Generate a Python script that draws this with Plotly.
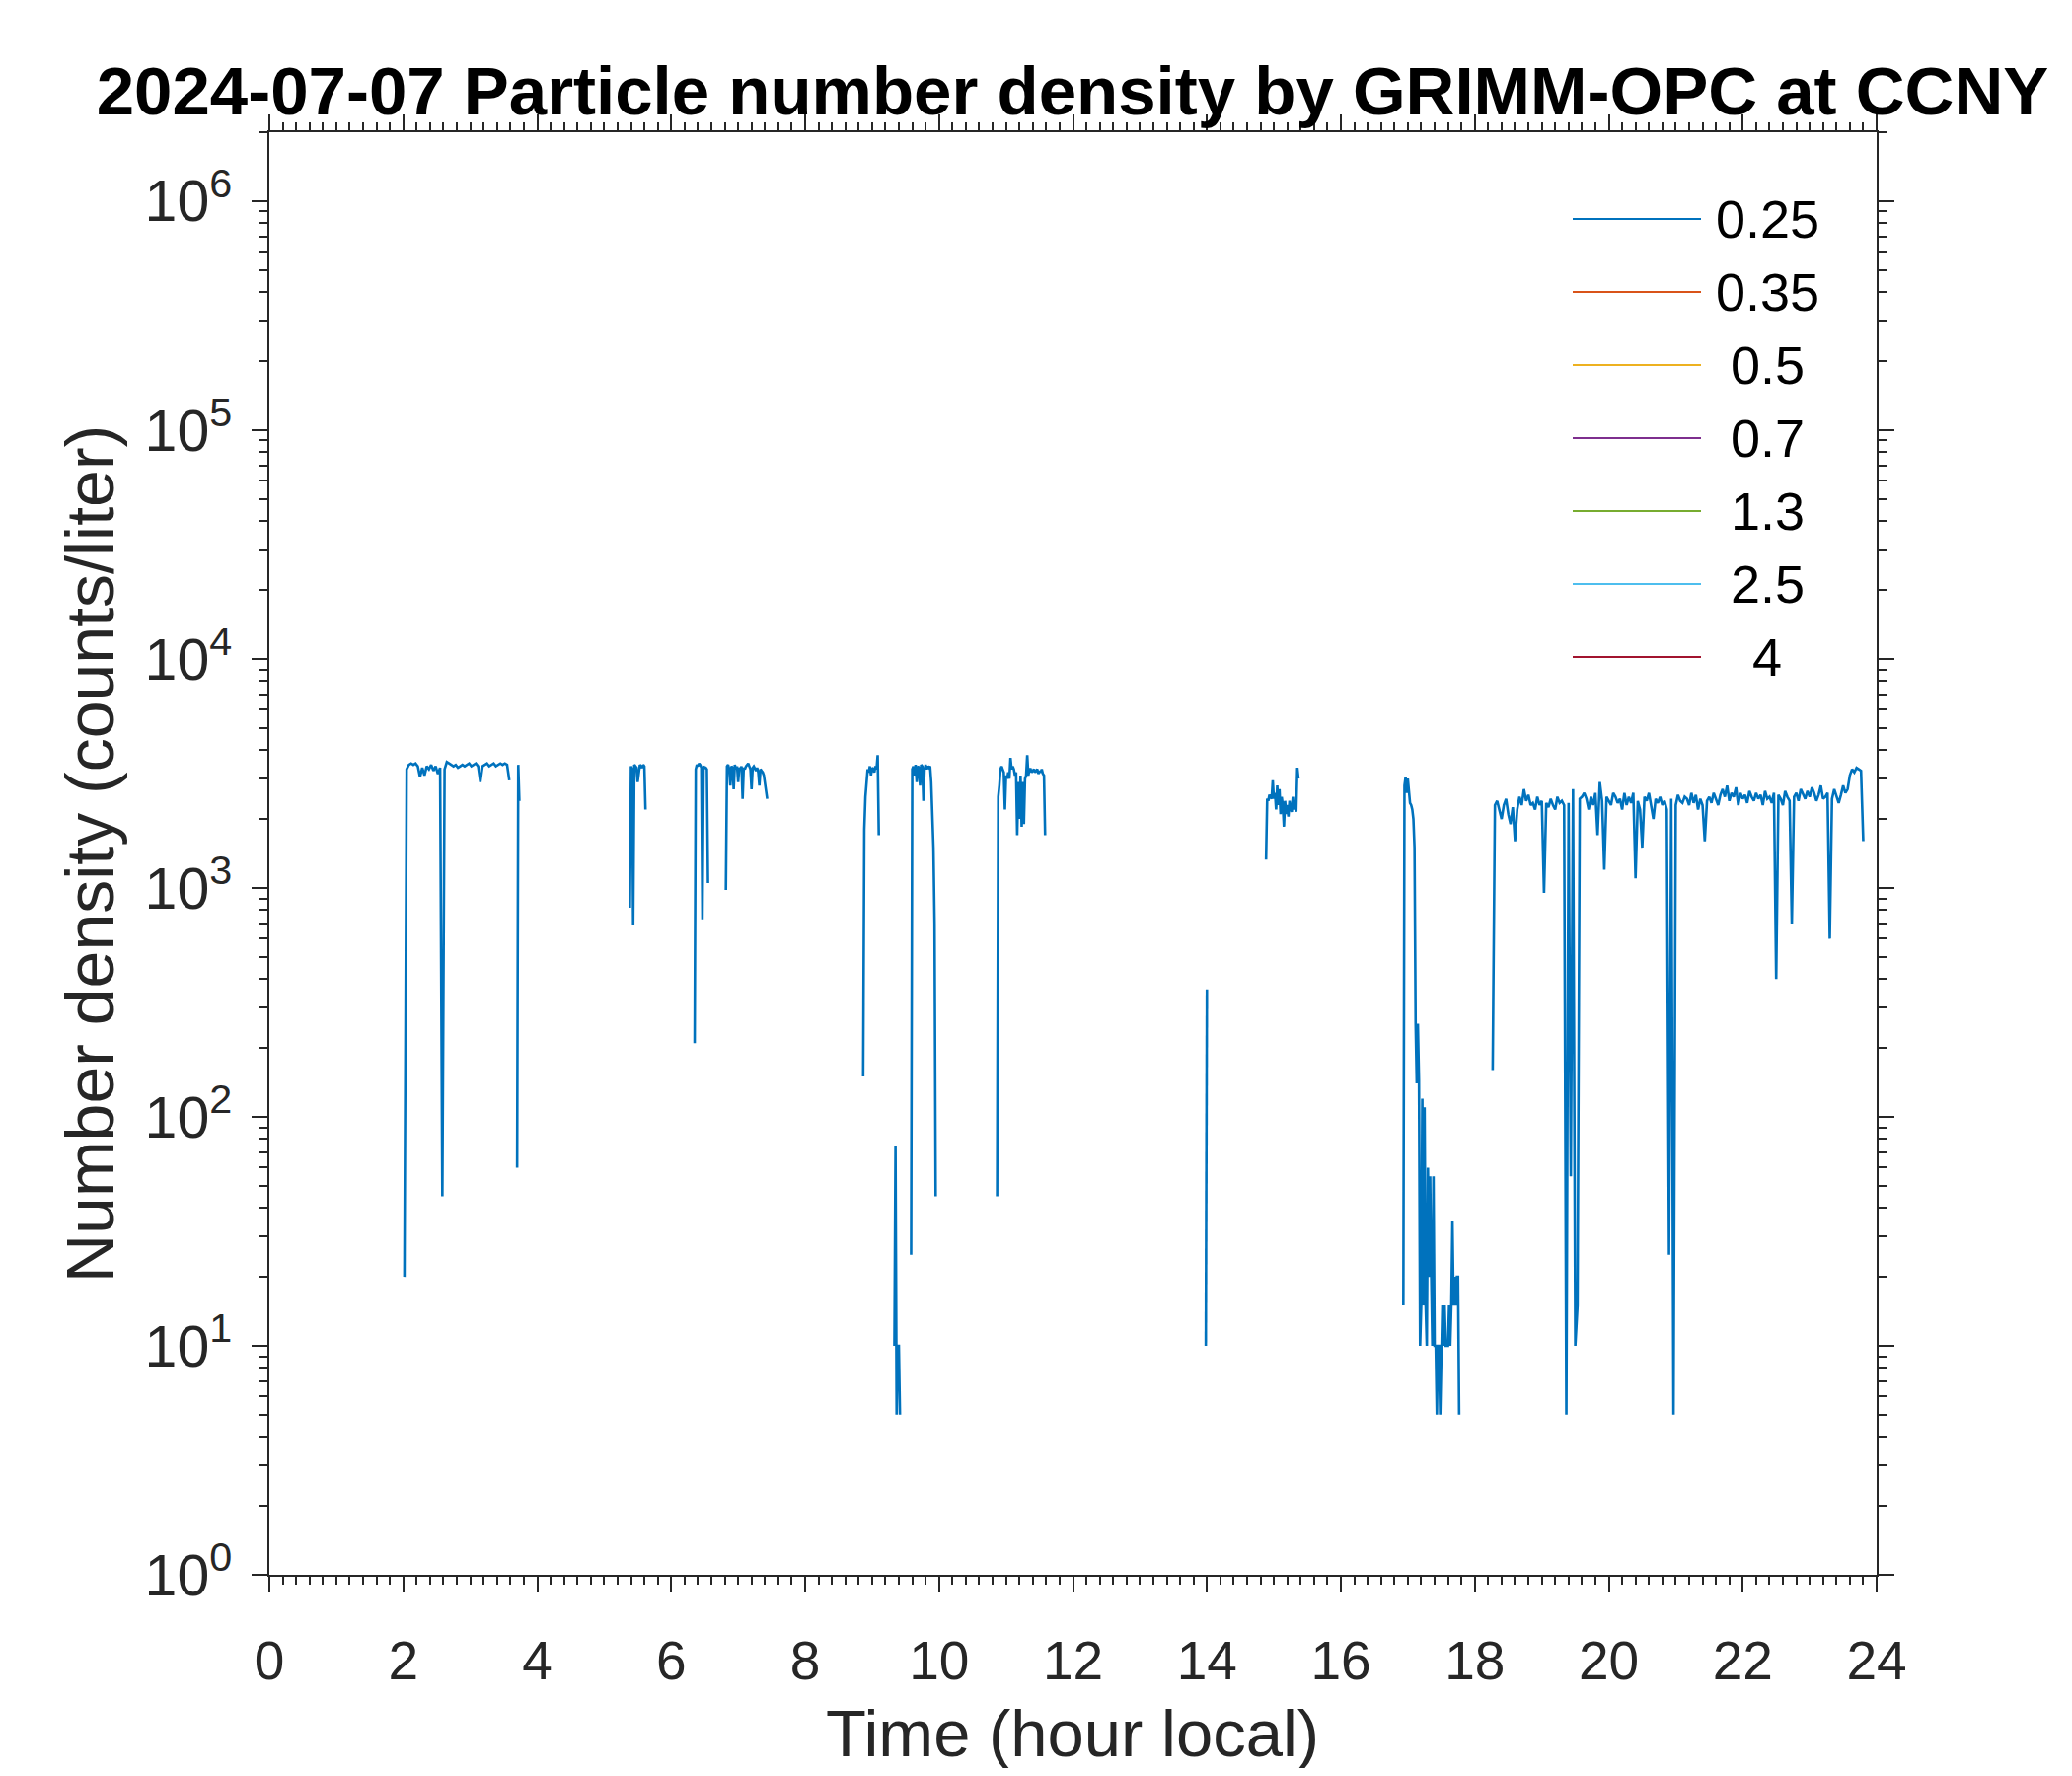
import plotly.graph_objects as go

# ---------------- text / categories ----------------
TITLE = "2024-07-07 Particle number density by GRIMM-OPC at CCNY"
X_LABEL = "Time (hour local)"
Y_LABEL = "Number density (counts/liter)"
CHANNELS = ["0.25", "0.35", "0.5", "0.7", "1.3", "2.5", "4"]
COLORS = ["#0072BD", "#D95319", "#EDB120", "#7E2F8E", "#77AC30", "#4DBEEE", "#A2142F"]
X_TICKS = [0, 2, 4, 6, 8, 10, 12, 14, 16, 18, 20, 22, 24]
Y_TICK_VALS = [1, 10, 100, 1000, 10000, 100000, 1000000]
Y_TICK_TEXT = ["10<sup>0</sup>", "10<sup>1</sup>", "10<sup>2</sup>", "10<sup>3</sup>",
               "10<sup>4</sup>", "10<sup>5</sup>", "10<sup>6</sup>"]

# ---------------- data (0.25 um channel, counts/liter) ----------------
# each segment: start time (hour local), sampling step (minutes), values
seg01_start, seg01_step = 2.0167, 2
seg01_vals = [20, 3300, 3450, 3500, 3450, 3500, 3400, 3050, 3350, 3100, 3400, 3300, 3450, 3250,
              3400, 3150, 3350, 45, 3300, 3550, 3500, 3450, 3400, 3450, 3350, 3400, 3450, 3400,
              3450, 3500, 3400, 3450, 3500, 3400, 2900, 3400, 3450, 3500, 3400, 3450, 3500, 3400,
              3450, 3500, 3450, 3500, 3450, 2950]
seg02_start, seg02_step = 3.700, 1
seg02_vals = [60, 3450, 2400]
seg03_start, seg03_step = 5.383, 1
seg03_vals = [820, 3400, 3300, 690, 3450, 3400, 3350, 2900, 3300, 3450, 3400, 3350, 3450, 3400, 2200]
seg04_start, seg04_step = 6.350, 1
seg04_vals = [210, 3300, 3450, 3400, 3500, 3450, 3350, 730, 3400, 3350, 3350, 3300, 1050]
seg05_start, seg05_step = 6.817, 1
seg05_vals = [980, 3400, 3450, 3300, 2800, 3400, 3350, 2700, 3450, 3300, 3400, 2900, 3350, 3300,
              3400, 2450, 3350, 3300, 3400, 3450, 3500, 3400, 3300, 2700, 3350, 3400, 3300, 3250,
              3350, 3200, 2800, 3300, 3250, 3200, 3100, 2900, 2700, 2450]
seg06_start, seg06_step = 8.867, 1
seg06_vals = [150, 1800, 2500, 3000, 3300, 3200, 3400, 3100, 3350, 3300, 3200, 3400, 3300, 3800, 1700]
seg07_start, seg07_step = 9.333, 1
seg07_vals = [10, 75, 5, 10, 10, 5]
seg08_start, seg08_step = 9.583, 1
seg08_vals = [25, 3300, 3400, 3100, 3450, 2900, 3400, 3350, 2800, 3450, 3400, 2400, 3300, 3450,
              3300, 3400, 3350, 3400, 2900, 2200, 1500, 700, 45]
seg09_start, seg09_step = 10.867, 1
seg09_vals = [45, 2500, 2800, 3300, 3400, 3300, 3200, 2200, 3100, 3000, 3200, 3000, 3700, 3300,
              3400, 3300, 3100, 3200, 1700, 2900, 2000, 3100, 1850, 2900, 1900, 3000, 3100, 3800,
              3100, 3300, 3300, 3200, 3250, 3300, 3200, 3250, 3300, 3150, 3250, 3200, 3300, 3150,
              3100, 1700]
seg10_start, seg10_step = 13.983, 1
seg10_vals = [10, 360]
seg11_start, seg11_step = 14.883, 1
seg11_vals = [1330, 2450, 2400, 2550, 2500, 2450, 2950, 2450, 2600, 2200, 2800, 2300, 2700, 2100,
              2500, 2300, 1850, 2400, 2100, 2300, 2050, 2400, 2200, 2150, 2500, 2200, 2300, 2150,
              3350, 3000]
seg12_start, seg12_step = 16.933, 1
seg12_vals = [15, 2800, 3050, 2600, 3000, 2500, 2350, 2300, 2200, 2000, 1500, 255, 140, 255, 145,
              10, 15, 120, 15, 110, 15, 10, 60, 20, 55, 20, 10, 55, 10, 10, 5, 10, 10, 5, 10, 15,
              10, 15, 10, 10, 10, 15, 10, 15, 35, 15, 20, 15, 20, 20, 5]
seg13_start, seg13_step = 18.267, 2
seg13_vals = [160, 2300, 2400, 2200, 2000, 2300, 2450, 2100, 1900, 2250, 1600, 2200, 2500, 2300, 2700,
              2400, 2550, 2300, 2350, 2200, 2500, 2300, 2400, 950, 2350, 2250, 2450, 2300, 2200, 2500,
              2350, 2400, 2300, 5, 2350, 55, 2700, 10, 15, 2450, 2500, 2600, 2450, 2200, 2500,
              2300, 2600, 1700, 2900, 2400, 1200, 2500, 2400, 2300, 2600, 2500, 2350, 2450, 2200, 2600,
              2300, 2500, 2350, 2600, 1100, 2400, 2200, 1500, 2500, 2400, 2600, 2300, 2000, 2450, 2350,
              2500, 2300, 2400, 2200, 25, 2450, 5, 2300, 2550, 2400, 2350, 2500, 2450, 2300, 2600,
              2350, 2550, 2200, 2450, 2300, 1600, 2400, 2500, 2350, 2600, 2450, 2300, 2550, 2700, 2500,
              2800, 2400, 2600, 2500, 2750, 2300, 2600, 2450, 2550, 2350, 2650, 2500, 2400, 2600, 2450,
              2550, 2300, 2650, 2450, 2500, 2350, 2600, 400, 2550, 2450, 2300, 2650, 2500, 2400, 700,
              2500, 2600, 2400, 2700, 2550, 2450, 2650, 2500, 2750, 2600, 2400, 2550, 2800, 2450, 2500,
              2600, 600, 2450, 2700, 2500, 2350, 2550, 2800, 2600, 2700, 3100, 3300, 3200, 3350, 3300,
              3250, 1600]

SEGMENTS = [
    (seg01_start, seg01_step, seg01_vals), (seg02_start, seg02_step, seg02_vals),
    (seg03_start, seg03_step, seg03_vals), (seg04_start, seg04_step, seg04_vals),
    (seg05_start, seg05_step, seg05_vals), (seg06_start, seg06_step, seg06_vals),
    (seg07_start, seg07_step, seg07_vals), (seg08_start, seg08_step, seg08_vals),
    (seg09_start, seg09_step, seg09_vals), (seg10_start, seg10_step, seg10_vals),
    (seg11_start, seg11_step, seg11_vals), (seg12_start, seg12_step, seg12_vals),
    (seg13_start, seg13_step, seg13_vals),
]

# build time series with gaps between segments
t_hours, n_025 = [], []
for start, step, vals in SEGMENTS:
    for i, v in enumerate(vals):
        t_hours.append(start + i * step / 60.0)
        n_025.append(v)
    t_hours.append(None)
    n_025.append(None)

# ---------------- layout geometry (pixels, page coordinates) ----------------
PAGE_W, PAGE_H = 2100, 1800
BODY = 8                       # default page margin around the plot div
W, H = PAGE_W - 2 * BODY, PAGE_H - 2 * BODY
L, R, T, B = 273 - BODY, 1902 - BODY, 134 - BODY, 1596 - BODY
PW, PH = R - L, B - T
AX = "#262626"
FONT = "Liberation Sans, Arial, sans-serif"


def px(x):
    return (x - BODY - L) / PW


def py(y):
    return (B - (y - BODY)) / PH


fig = go.Figure()
fig.add_trace(go.Scatter(x=t_hours, y=n_025, mode="lines", name=CHANNELS[0],
                         line=dict(color=COLORS[0], width=2.6), connectgaps=False,
                         showlegend=False))
# other size channels have no plottable counts on this day
for name, col in zip(CHANNELS[1:], COLORS[1:]):
    fig.add_trace(go.Scatter(x=[], y=[], mode="lines", name=name,
                             line=dict(color=col, width=2.6), showlegend=False))

minor_y = [m * 10 ** k for k in range(0, 7) for m in range(2, 10) if m * 10 ** k <= 2e6]

fig.update_layout(
    width=W, height=H,
    margin=dict(l=L, r=W - R, t=T, b=H - B, pad=0),
    paper_bgcolor="white", plot_bgcolor="white",
    font=dict(family=FONT, size=55, color=AX),
    title=dict(text="<b>" + TITLE + "</b>", x=px(1087), xref="paper", xanchor="center",
               y=1 - (92 - BODY) / H, yref="container", yanchor="middle",
               font=dict(family=FONT, size=69, color="black")),
    showlegend=False,
)
fig.update_xaxes(
    range=[0, 24], tickmode="array", tickvals=X_TICKS, ticktext=[str(v) for v in X_TICKS],
    showline=True, linecolor=AX, linewidth=2, mirror="allticks",
    ticks="outside", ticklen=16, tickwidth=2, tickcolor=AX,
    ticklabelstandoff=22,
    minor=dict(ticks="outside", dtick=0.2, tick0=0, ticklen=8, tickwidth=1.5, tickcolor=AX,
               showgrid=False),
    showgrid=False, zeroline=False, tickfont=dict(size=55, color=AX),
)
fig.update_yaxes(
    type="log", range=[0, 6.301], tickmode="array", tickvals=Y_TICK_VALS, ticktext=Y_TICK_TEXT,
    showline=True, linecolor=AX, linewidth=2, mirror="allticks",
    ticks="outside", ticklen=16, tickwidth=2, tickcolor=AX,
    ticklabelstandoff=8,
    minor=dict(ticks="outside", tickmode="array", tickvals=minor_y, ticklen=8, tickwidth=1.5,
               tickcolor=AX, showgrid=False),
    showgrid=False, zeroline=False, tickfont=dict(size=59, color=AX),
)

# axis titles
fig.add_annotation(text=X_LABEL, xref="paper", yref="paper", x=px(1087), y=py(1757),
                   xanchor="center", yanchor="middle", showarrow=False,
                   font=dict(family=FONT, size=67, color=AX))
fig.add_annotation(text=Y_LABEL, xref="paper", yref="paper", x=px(91), y=py(866),
                   xanchor="center", yanchor="middle", textangle=-90, showarrow=False,
                   font=dict(family=FONT, size=68, color=AX))

# legend (MATLAB style, no box)
for i, (name, col) in enumerate(zip(CHANNELS, COLORS)):
    yy = 222 + 74 * i
    fig.add_shape(type="line", xref="paper", yref="paper", x0=px(1594), x1=px(1724),
                  y0=py(yy), y1=py(yy), line=dict(color=col, width=2.2))
    fig.add_annotation(text=name, xref="paper", yref="paper", x=px(1791), y=py(yy),
                       xanchor="center", yanchor="middle", showarrow=False,
                       font=dict(family=FONT, size=54, color="black"))

fig.write_html("out.html")
